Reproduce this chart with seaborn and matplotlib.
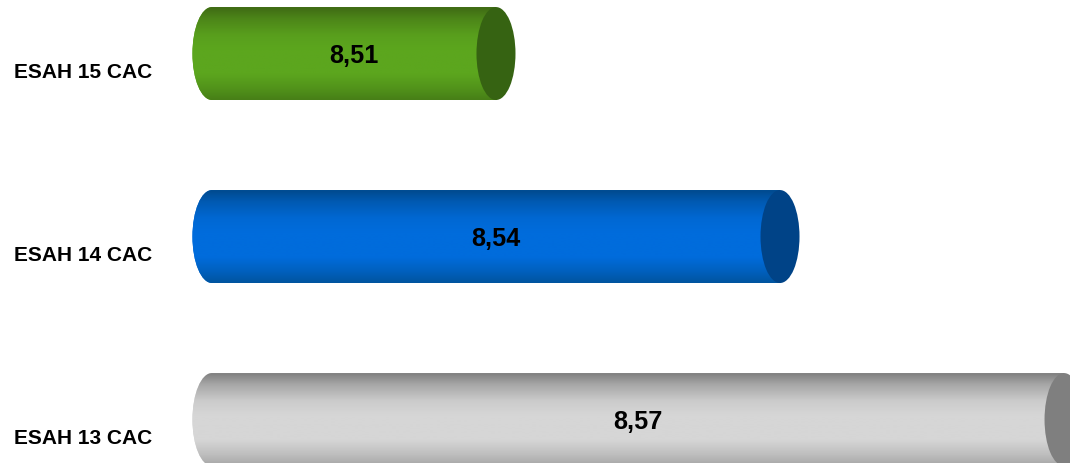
import numpy as np
import pandas as pd
import seaborn as sns
import matplotlib
matplotlib.use("Agg")
import matplotlib.pyplot as plt
from matplotlib.colors import LinearSegmentedColormap
from matplotlib.patches import Ellipse
from matplotlib.path import Path
from matplotlib.transforms import ScaledTranslation

categories = ["ESAH 15 CAC", "ESAH 14 CAC", "ESAH 13 CAC"]
values = [8.51, 8.54, 8.57]
value_labels = ["8,51", "8,54", "8,57"]
axis_min = 8.48
x_limits = (8.47504, 8.57063)
y_limits = (2.2375, -0.298)
mid_colors = ["#5ca61e", "#006cdc", "#d6d6d6"]
top_colors = ["#3f6a14", "#004a8e", "#808080"]
bottom_colors = ["#477f17", "#00549f", "#a6a6a6"]
cap_colors = ["#366312", "#004387", "#7f7f7f"]

sns.set_theme(style="white")
plt.rcParams["font.family"] = ["Liberation Sans", "DejaVu Sans"]

fig = plt.figure(figsize=(10.70, 4.64), dpi=100)
ax = fig.add_axes([165 / 1070, 0, 905 / 1070, 1])
df = pd.DataFrame({"cat": categories, "val": values})
sns.barplot(data=df, x="val", y="cat", hue="cat", palette=mid_colors, dodge=False,
            width=0.508, legend=False, ax=ax, linewidth=0, saturation=1)
ax.set_xlim(*x_limits)
ax.set_ylim(*y_limits)
ax.set_xlabel("")
ax.set_ylabel("")
ax.set_xticks([])
ax.autoscale(False)
for s in ax.spines.values():
    s.set_visible(False)
ax.patch.set_alpha(0)

ax.tick_params(axis="y", length=0, pad=9.4)
offset = ScaledTranslation(0, -15.5 / 100, fig.dpi_scale_trans)
for lab in ax.get_yticklabels():
    lab.set_fontsize(15)
    lab.set_fontweight("bold")
    lab.set_color("black")
    lab.set_transform(lab.get_transform() + offset)

px = (x_limits[1] - x_limits[0]) / 905
a = 19.5 * px
k = 0.5523
stops = [0.0, 0.12, 0.3, 0.45, 0.72, 0.88, 1.0]
patches = [c[0] for c in ax.containers]
for i, p in enumerate(patches):
    y0 = p.get_y()
    h = p.get_height()
    y1 = y0 + h
    ym = y0 + h / 2
    v = p.get_width()
    verts = [(axis_min, y0), (v, y0), (v, y1), (axis_min, y1),
             (axis_min - k * a, y1), (axis_min - a, ym + k * h / 2), (axis_min - a, ym),
             (axis_min - a, ym - k * h / 2), (axis_min - k * a, y0), (axis_min, y0)]
    codes = [Path.MOVETO, Path.LINETO, Path.LINETO, Path.LINETO,
             Path.CURVE4, Path.CURVE4, Path.CURVE4,
             Path.CURVE4, Path.CURVE4, Path.CURVE4]
    body = Path(verts, codes)
    p.set_clip_path(body, ax.transData)
    c_top = np.array(matplotlib.colors.to_rgb(top_colors[i]))
    c_mid = np.array(matplotlib.colors.to_rgb(mid_colors[i]))
    c_bot = np.array(matplotlib.colors.to_rgb(bottom_colors[i]))
    cols = [c_top, c_top * 0.55 + c_mid * 0.45, c_top * 0.12 + c_mid * 0.88, c_mid, c_mid,
            c_bot * 0.5 + c_mid * 0.5, c_bot]
    cmap = LinearSegmentedColormap.from_list("g%d" % i, list(zip(stops, cols)))
    im = ax.imshow(np.linspace(0, 1, 128).reshape(-1, 1), cmap=cmap, aspect="auto",
                   origin="upper", extent=(axis_min - a, v, y1, y0), zorder=2,
                   interpolation="bilinear")
    im.set_clip_path(body, ax.transData)
    ax.add_patch(Ellipse((v, ym), 2 * a, h, facecolor=cap_colors[i], edgecolor="none", zorder=3))
    ax.annotate(value_labels[i], xy=((axis_min + v) / 2, ym), xytext=(0, -0.7),
                textcoords="offset points", ha="center", va="center",
                fontsize=18.2, fontweight="bold", color="black", zorder=4)
ax.set_xlim(*x_limits)
ax.set_ylim(*y_limits)
fig.savefig("out.png", dpi=100)
